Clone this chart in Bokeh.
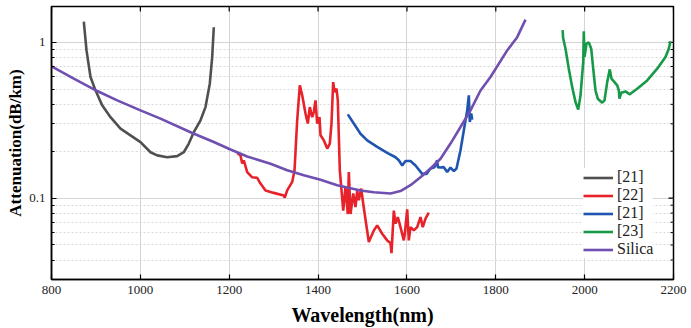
import math
from bokeh.plotting import figure
from bokeh.models import Range1d, FixedTicker, CustomJSTickFormatter, Legend, LegendItem, Title
from bokeh.embed import file_html
from bokeh.resources import INLINE

# ---- data ----
gray_x = [872.7, 878.8, 887.8, 899.0, 914.1, 932.8, 955.3, 977.8, 1000.3, 1022.8, 1037.9,
          1060.4, 1082.9, 1097.8, 1109.0, 1120.3, 1135.4, 1146.6, 1156.3, 1161.7, 1165.3]
gray_y = [1.36, 0.888, 0.599, 0.492, 0.394, 0.331, 0.279, 0.253, 0.229, 0.197, 0.188,
          0.183, 0.186, 0.197, 0.224, 0.265, 0.316, 0.384, 0.543, 0.805, 1.25]

red_x = [1218.0, 1225.4, 1229.2, 1232.8, 1240.5, 1251.7, 1263.0, 1270.4, 1281.7, 1300.4, 1322.9,
         1325.1, 1330.5, 1341.8, 1347.0, 1353.0, 1358.9, 1364.3, 1371.7, 1376.9, 1381.4, 1386.8,
         1390.4, 1394.2, 1398.0, 1403.2, 1405.5, 1412.9, 1420.6, 1426.4, 1430.2, 1434.0, 1437.0,
         1441.5, 1444.4, 1448.9, 1456.6, 1461.7, 1466.9, 1469.2, 1473.0, 1479.1, 1484.2, 1488.1,
         1491.7, 1497.1, 1501.6, 1514.2, 1525.5, 1533.1, 1544.3, 1555.6, 1563.0, 1565.3, 1570.5,
         1574.3, 1579.5, 1585.5, 1593.0, 1595.2, 1600.6, 1604.2, 1608.0, 1615.5, 1623.1, 1630.5,
         1635.7, 1641.8, 1649.2]
red_y = [0.195, 0.188, 0.167, 0.175, 0.147, 0.136, 0.135, 0.124, 0.112, 0.108, 0.104,
         0.1006, 0.112, 0.127, 0.151, 0.316, 0.530, 0.457, 0.349, 0.301, 0.384, 0.331,
         0.357, 0.424, 0.301, 0.331, 0.253, 0.235, 0.208, 0.224, 0.301, 0.556, 0.480,
         0.504, 0.424, 0.151, 0.083, 0.118, 0.079, 0.147, 0.079, 0.107, 0.0875, 0.112,
         0.0967, 0.115, 0.092, 0.0522, 0.062, 0.0668, 0.059, 0.0535, 0.0514, 0.0443, 0.083,
         0.0685, 0.0755, 0.0651, 0.0535, 0.059, 0.0846, 0.0535, 0.0651, 0.062, 0.0651, 0.0755,
         0.0651, 0.0737, 0.0806]

blue_x = [1466.9, 1480.4, 1495.5, 1510.6, 1533.1, 1555.6, 1574.3, 1581.7, 1589.4, 1596.8, 1608.0,
          1619.3, 1634.4, 1644.1, 1653.1, 1662.1, 1668.1, 1669.5, 1675.6, 1683.0, 1690.6, 1698.1,
          1705.5, 1711.6, 1720.6, 1728.0, 1735.7, 1739.3, 1741.5, 1744.7, 1746.9]
blue_y = [0.345, 0.301, 0.259, 0.235, 0.213, 0.195, 0.183, 0.175, 0.162, 0.173, 0.173,
          0.162, 0.143, 0.143, 0.155, 0.158, 0.175, 0.158, 0.157, 0.158, 0.147, 0.157,
          0.149, 0.155, 0.203, 0.272, 0.366, 0.457, 0.308, 0.349, 0.319]

green_x = [1950.5, 1951.5, 1956.9, 1964.3, 1972.0, 1979.4, 1985.5, 1990.7, 1996.8, 1998.1, 1999.7,
           2004.2, 2009.4, 2014.8, 2019.3, 2024.4, 2029.6, 2039.5, 2044.7, 2050.8, 2056.6, 2060.4,
           2067.2, 2073.3, 2076.9, 2078.4, 2082.3, 2092.0, 2101.6, 2118.3, 2140.8, 2163.3, 2182.0,
           2189.4, 2193.2]
green_y = [1.20, 1.07, 0.911, 0.678, 0.516, 0.414, 0.370, 0.457, 0.747, 1.18, 0.805,
           0.981, 1.00, 0.911, 0.678, 0.491, 0.435, 0.410, 0.424, 0.556, 0.671, 0.585,
           0.556, 0.530, 0.491, 0.435, 0.475, 0.484, 0.464, 0.504, 0.570, 0.678, 0.805,
           0.911, 1.015]

silica_x = [800.0, 850.2, 902.9, 947.9, 1000.3, 1045.3, 1116.7, 1165.3, 1202.9, 1240.5, 1292.9,
            1330.5, 1367.9, 1405.5, 1443.1, 1495.5, 1525.5, 1563.0, 1585.5, 1608.0, 1630.5,
            1653.1, 1675.6, 1698.1, 1720.6, 1743.1, 1765.6, 1788.1, 1825.7, 1848.2, 1866.9]
silica_y = [0.701, 0.585, 0.487, 0.424, 0.366, 0.324, 0.262, 0.229, 0.205, 0.185, 0.166,
            0.151, 0.140, 0.131, 0.121, 0.112, 0.109, 0.107, 0.111, 0.121, 0.136,
            0.155, 0.179, 0.224, 0.286, 0.366, 0.491, 0.599, 0.888, 1.08, 1.40]

x_ticks = [800, 1000, 1200, 1400, 1600, 1800, 2000, 2200]
y_ticks = [0.1, 1]
y_minor = [0.03, 0.04, 0.05, 0.06, 0.07, 0.08, 0.09,
           0.2, 0.3, 0.4, 0.5, 0.6, 0.7, 0.8, 0.9]

X_MIN, X_MAX = 800, 2200
Y_MIN, Y_MAX = 0.030, 1.70
FONT = "Liberation Serif"

p = figure(width=691, height=328, y_axis_type="log", output_backend="svg",
           toolbar_location=None, x_range=Range1d(X_MIN, X_MAX), y_range=Range1d(Y_MIN, Y_MAX),
           min_border_left=51, min_border_right=18, min_border_top=6, min_border_bottom=49)
p.background_fill_color = "white"
p.border_fill_color = "white"
p.outline_line_color = "black"
p.outline_line_width = 1.5

p.xaxis.ticker = FixedTicker(ticks=x_ticks)
p.yaxis.ticker = FixedTicker(ticks=y_ticks, minor_ticks=y_minor)
p.yaxis.formatter = CustomJSTickFormatter(code="return String(Math.round(tick*1000)/1000);")

for ax in (p.xaxis[0], p.yaxis[0]):
    ax.major_tick_in = 5
    ax.major_tick_out = 0
    ax.minor_tick_in = 3
    ax.minor_tick_out = 0
    ax.axis_line_color = "black"
    ax.axis_line_width = 1.5
    ax.major_tick_line_width = 1.2
    ax.major_label_text_font = FONT
    ax.major_label_text_font_size = "13px"
    ax.major_label_text_color = "#222222"
    ax.major_label_standoff = 6
    ax.axis_label_text_font = FONT
    ax.axis_label_text_font_style = "bold"
    ax.axis_label_text_color = "black"
p.xaxis.minor_tick_line_color = None
p.xaxis.axis_label = "Wavelength(nm)"
p.xaxis.axis_label_text_font_size = "20px"
p.xaxis.axis_label_standoff = 7

# y-axis title, placed slightly above the frame centre as in the reference
ytitle = Title(text="Attenuation(dB/km)", align="center", offset=17,
               text_font=FONT, text_font_style="bold", text_font_size="17px",
               text_color="black", standoff=4)
p.add_layout(ytitle, "left")

p.xgrid.ticker = FixedTicker(ticks=x_ticks)
p.xgrid.grid_line_color = "#d4d4d4"
p.xgrid.grid_line_width = 1
p.ygrid.ticker = FixedTicker(ticks=y_ticks, minor_ticks=y_minor)
p.ygrid.grid_line_color = "#d4d4d4"
p.ygrid.grid_line_width = 1.2
p.ygrid.minor_grid_line_color = "#d8d8d8"
p.ygrid.minor_grid_line_dash = "2 2"
p.ygrid.minor_grid_line_width = 1

# mirrored inward ticks on the top and right edges (half of each dash is clipped by the frame)
p.scatter(x=x_ticks, y=[Y_MAX] * len(x_ticks), marker="dash", size=10, angle=math.pi / 2,
          line_color="black", line_width=1.2)
p.scatter(x=[X_MAX] * len(y_ticks), y=y_ticks, marker="dash", size=10,
          line_color="black", line_width=1.2)
p.scatter(x=[X_MAX] * len(y_minor), y=y_minor, marker="dash", size=6,
          line_color="black", line_width=1)

lw = 2.6
r_gray = p.line(gray_x, gray_y, line_color="#505050", line_width=lw)
r_red = p.line(red_x, red_y, line_color="#e8222a", line_width=lw)
r_blue = p.line(blue_x, blue_y, line_color="#1f55b0", line_width=lw)
r_green = p.line(green_x, green_y, line_color="#169a48", line_width=lw)
r_silica = p.line(silica_x, silica_y, line_color="#6f4fb0", line_width=lw)

legend = Legend(items=[LegendItem(label="[21]", renderers=[r_gray]),
                       LegendItem(label="[22]", renderers=[r_red]),
                       LegendItem(label="[21]", renderers=[r_blue]),
                       LegendItem(label="[23]", renderers=[r_green]),
                       LegendItem(label="Silica", renderers=[r_silica])],
                location=(532, 21), glyph_width=30, glyph_height=17, label_height=17,
                spacing=0, padding=5, margin=0, label_standoff=4,
                label_text_font=FONT, label_text_font_size="16px", label_text_color="#222222",
                background_fill_color="white", background_fill_alpha=1.0,
                border_line_color=None)
p.add_layout(legend)

open("out.html", "w").write(file_html(p, INLINE))
